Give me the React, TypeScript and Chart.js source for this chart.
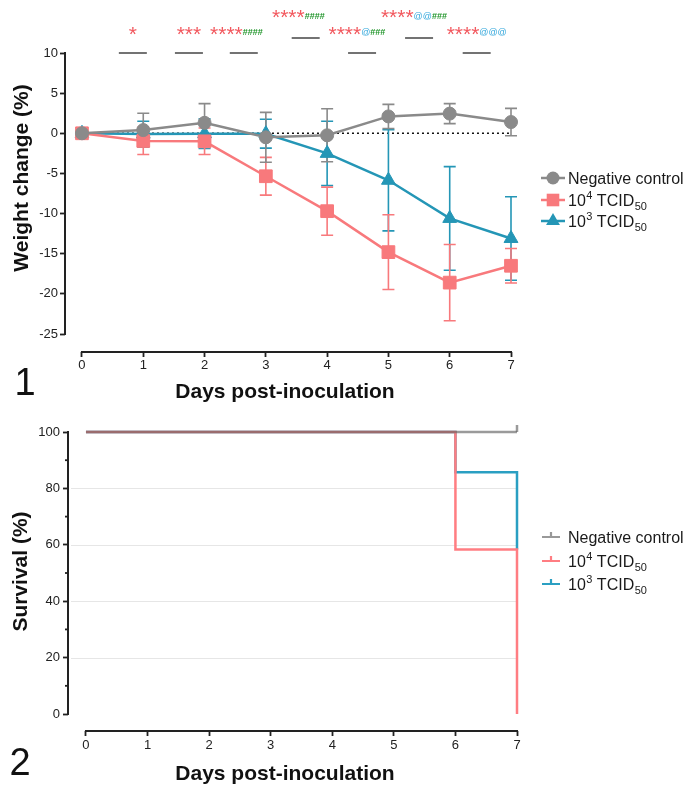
import React, { useEffect, useRef } from 'react';
import { Chart, registerables } from 'chart.js';

Chart.register(...registerables);

const FONT = '"Liberation Sans", Arial, Helvetica, sans-serif';

// ---------- data: weight change ----------
const days = [0, 1, 2, 3, 4, 5, 6, 7];
const dayTicks = [0, 1, 2, 3, 4, 5, 6, 7];
const weightTicks = [-25, -20, -15, -10, -5, 0, 5, 10];

const negMean = [0, 0.4, 1.3, -0.5, -0.25, 2.1, 2.45, 1.4];
const negSD = [0, 2.1, 2.4, 3.1, 3.3, 1.5, 1.25, 1.7];
const highMean = [0, -0.95, -1.0, -5.35, -9.7, -14.8, -18.6, -16.5];
const highSD = [0, 1.7, 1.65, 2.35, 3.0, 4.65, 4.75, 2.15];
const lowMean = [0, -0.1, -0.05, -0.05, -2.5, -5.85, -10.6, -13.1];
const lowSD = [0, 1.6, 1.85, 1.8, 4.0, 6.3, 6.45, 5.2];

// significance annotations (positions in day units)
const sigLineX = [0.83, 1.745, 2.64, 3.65, 4.57, 5.5, 6.44];
const sigTextX = [0.83, 1.745, 2.52, 3.53, 4.486, 5.416, 6.44];
const sigRow = [0, 0, 0, 1, 0, 1, 0];
const sigStars = ['*', '***', '****', '****', '****', '****', '****'];
const sigAts = ['', '', '', '', '@', '@@', '@@@'];
const sigHashes = ['', '', '####', '####', '###', '###', ''];

// ---------- data: survival ----------
const survivalTicks = [0, 20, 40, 60, 80, 100];
const survivalMinor = [10, 30, 50, 70, 90];
const survivalGrid = [20, 40, 60, 80];
const survNegX = [0, 7];
const survNegY = [100, 100];
const survHighX = [0, 6, 7];
const survHighY = [100, 58.3, 0];
const survLowX = [0, 6, 7];
const survLowY = [100, 85.7, 58.3];

// legend labels: main text, superscript, trailing text, subscript
const legendMain = ['Negative control', '10', '10'];
const legendSup = ['', '4', '3'];
const legendTail = ['', ' TCID', ' TCID'];
const legendSub = ['', '50', '50'];

const GREY = '#8a8a8a';
const RED = '#f8797c';
const BLUE = '#2496b6';
const S_GREY = 'rgba(100,100,100,0.65)';
const S_RED = '#ff7d82';
const S_BLUE = '#2a9fc2';
const AXIS = '#222';

function drawLegendText(ctx: CanvasRenderingContext2D, i: number, x: number, yc: number) {
  const base = yc + 5.8;
  ctx.textAlign = 'left';
  ctx.textBaseline = 'alphabetic';
  ctx.fillStyle = '#1a1a1a';
  let cx = x;
  ctx.font = `16px ${FONT}`;
  ctx.fillText(legendMain[i], cx, base);
  cx += ctx.measureText(legendMain[i]).width;
  if (legendSup[i]) {
    ctx.font = `11px ${FONT}`;
    ctx.fillText(legendSup[i], cx + 0.5, base - 6.5);
    cx += ctx.measureText(legendSup[i]).width + 0.5;
  }
  if (legendTail[i]) {
    ctx.font = `16px ${FONT}`;
    ctx.fillText(legendTail[i], cx, base);
    cx += ctx.measureText(legendTail[i]).width;
  }
  if (legendSub[i]) {
    ctx.font = `11px ${FONT}`;
    ctx.fillText(legendSub[i], cx + 0.5, base + 4);
  }
}

function drawMarker(ctx: CanvasRenderingContext2D, style: string, x: number, y: number, color: string) {
  ctx.fillStyle = color;
  ctx.beginPath();
  if (style === 'circle') {
    ctx.arc(x, y, 6.5, 0, Math.PI * 2);
  } else if (style === 'rect') {
    ctx.rect(x - 6.3, y - 6.3, 12.6, 12.6);
  } else {
    const r = 8;
    ctx.moveTo(x, y - r);
    ctx.lineTo(x + r * Math.sin((2 * Math.PI) / 3), y - r * Math.cos((2 * Math.PI) / 3));
    ctx.lineTo(x + r * Math.sin((4 * Math.PI) / 3), y - r * Math.cos((4 * Math.PI) / 3));
    ctx.closePath();
  }
  ctx.fill();
}

function drawPanelDecor(chart: any, opts: { yTitle: string; yTitleX: number; yTitleY: number; xTitleX: number; xTitleBase: number; panel: string; panelX: number; panelBase: number; yMin: number; yMax: number }) {
  const { ctx, chartArea, scales } = chart;
  const x = scales.x;
  const y = scales.y;
  ctx.save();
  ctx.strokeStyle = AXIS;
  ctx.lineWidth = 2;
  ctx.lineCap = 'butt';
  ctx.beginPath();
  ctx.moveTo(chartArea.left, y.getPixelForValue(opts.yMax) - 1);
  ctx.lineTo(chartArea.left, y.getPixelForValue(opts.yMin) + 1);
  ctx.stroke();
  ctx.beginPath();
  ctx.moveTo(x.getPixelForValue(0) - 1, chartArea.bottom);
  ctx.lineTo(x.getPixelForValue(7) + 1, chartArea.bottom);
  ctx.stroke();

  ctx.fillStyle = '#111';
  ctx.font = `bold 21px ${FONT}`;
  ctx.textAlign = 'center';
  ctx.textBaseline = 'alphabetic';
  ctx.fillText('Days post-inoculation', opts.xTitleX, opts.xTitleBase);

  ctx.save();
  ctx.translate(opts.yTitleX, opts.yTitleY);
  ctx.rotate(-Math.PI / 2);
  ctx.textBaseline = 'middle';
  ctx.fillText(opts.yTitle, 0, 0);
  ctx.restore();

  ctx.font = `38px ${FONT}`;
  ctx.textAlign = 'center';
  ctx.textBaseline = 'alphabetic';
  ctx.fillText(opts.panel, opts.panelX, opts.panelBase);
  ctx.restore();
}

const weightPlugin = {
  id: 'weightDecor',
  beforeDatasetsDraw(chart: any) {
    const { ctx, scales } = chart;
    const x = scales.x;
    const y = scales.y;
    ctx.save();
    ctx.strokeStyle = '#111';
    ctx.lineWidth = 1.5;
    ctx.setLineDash([2, 3]);
    ctx.beginPath();
    ctx.moveTo(x.getPixelForValue(0), y.getPixelForValue(0));
    ctx.lineTo(x.getPixelForValue(7), y.getPixelForValue(0));
    ctx.stroke();
    ctx.setLineDash([]);
    for (let di = chart.data.datasets.length - 1; di >= 0; di--) {
      const ds = chart.data.datasets[di];
      const meta = chart.getDatasetMeta(di);
      ctx.strokeStyle = ds.borderColor;
      ctx.lineWidth = 1.6;
      ds.data.forEach((pt: any, i: number) => {
        const sd = ds.errorBars[i];
        if (!sd) return;
        const px = meta.data[i].x;
        const top = y.getPixelForValue(pt.y + sd);
        const bot = y.getPixelForValue(pt.y - sd);
        ctx.beginPath();
        ctx.moveTo(px, top);
        ctx.lineTo(px, bot);
        ctx.moveTo(px - 6, top);
        ctx.lineTo(px + 6, top);
        ctx.moveTo(px - 6, bot);
        ctx.lineTo(px + 6, bot);
        ctx.stroke();
      });
    }
    ctx.restore();
  },
  afterDraw(chart: any) {
    const { ctx, chartArea, scales } = chart;
    const x = scales.x;
    drawPanelDecor(chart, {
      yTitle: 'Weight change (%)', yTitleX: 22.7, yTitleY: 178,
      xTitleX: 285, xTitleBase: 398, panel: '1', panelX: 25, panelBase: 395,
      yMin: -25, yMax: 10,
    });
    ctx.save();
    // significance annotations
    const lineY = [chartArea.top, chartArea.top - 15];
    const starBase = [40.5, 23.5];
    const smallBase = [34.5, 18.5];
    sigLineX.forEach((v, i) => {
      const r = sigRow[i];
      const cx = x.getPixelForValue(v);
      ctx.strokeStyle = '#444';
      ctx.lineWidth = 1.5;
      ctx.beginPath();
      ctx.moveTo(cx - 14, lineY[r]);
      ctx.lineTo(cx + 14, lineY[r]);
      ctx.stroke();
      const parts = [
        { t: sigStars[i], font: `21px ${FONT}`, color: '#f2585e', base: starBase[r] },
        { t: sigAts[i], font: `9px ${FONT}`, color: '#35a8dc', base: smallBase[r] },
        { t: sigHashes[i], font: `bold 9px ${FONT}`, color: '#1e9428', base: smallBase[r] },
      ].filter((p) => p.t);
      let total = 0;
      parts.forEach((p) => {
        ctx.font = p.font;
        total += ctx.measureText(p.t).width;
      });
      let sx = x.getPixelForValue(sigTextX[i]) - total / 2;
      ctx.textAlign = 'left';
      ctx.textBaseline = 'alphabetic';
      parts.forEach((p) => {
        ctx.font = p.font;
        ctx.fillStyle = p.color;
        ctx.fillText(p.t, sx, p.base);
        sx += ctx.measureText(p.t).width;
      });
    });
    // legend
    const rows = [178, 200, 221];
    const cols = [GREY, RED, BLUE];
    const styles = ['circle', 'rect', 'triangle'];
    rows.forEach((ry, i) => {
      ctx.strokeStyle = cols[i];
      ctx.lineWidth = 2.5;
      ctx.beginPath();
      ctx.moveTo(541, ry);
      ctx.lineTo(565, ry);
      ctx.stroke();
      drawMarker(ctx, styles[i], 553, ry, cols[i]);
      drawLegendText(ctx, i, 568, ry);
    });
    ctx.restore();
  },
};

const survivalPlugin = {
  id: 'survivalDecor',
  beforeDatasetsDraw(chart: any) {
    const { ctx, chartArea, scales } = chart;
    const x = scales.x;
    const y = scales.y;
    ctx.save();
    ctx.strokeStyle = '#e6e6e6';
    ctx.lineWidth = 1;
    survivalGrid.forEach((v) => {
      const py = Math.round(y.getPixelForValue(v)) + 0.5;
      ctx.beginPath();
      ctx.moveTo(chartArea.left + 3, py);
      ctx.lineTo(x.getPixelForValue(7), py);
      ctx.stroke();
    });
    ctx.restore();
  },
  afterDraw(chart: any) {
    const { ctx, chartArea, scales } = chart;
    const y = scales.y;
    drawPanelDecor(chart, {
      yTitle: 'Survival (%)', yTitleX: 21.2, yTitleY: 171.5,
      xTitleX: 285, xTitleBase: 380, panel: '2', panelX: 20, panelBase: 375,
      yMin: 0, yMax: 100,
    });
    ctx.save();
    ctx.strokeStyle = AXIS;
    ctx.lineWidth = 1.8;
    survivalMinor.forEach((v) => {
      const py = y.getPixelForValue(v);
      ctx.beginPath();
      ctx.moveTo(chartArea.left - 3, py);
      ctx.lineTo(chartArea.left, py);
      ctx.stroke();
    });
    const rows = [137, 161, 184];
    const cols = ['#999999', S_RED, S_BLUE];
    rows.forEach((ry, i) => {
      ctx.strokeStyle = cols[i];
      ctx.lineWidth = 2.2;
      ctx.beginPath();
      ctx.moveTo(542, ry);
      ctx.lineTo(560, ry);
      ctx.moveTo(551, ry);
      ctx.lineTo(551, ry - 5);
      ctx.stroke();
      drawLegendText(ctx, i, 568, ry);
    });
    ctx.restore();
  },
};

function tickFont() {
  return { family: FONT, size: 13 };
}

export default function App() {
  const ref1 = useRef<HTMLCanvasElement>(null);
  const ref2 = useRef<HTMLCanvasElement>(null);

  useEffect(() => {
    const mk = (mean: number[], sd: number[], label: string, color: string, style: string, radius: number) => ({
      label,
      data: days.map((d, i) => ({ x: d, y: mean[i] })),
      errorBars: sd,
      borderColor: color,
      backgroundColor: color,
      pointBackgroundColor: color,
      pointBorderColor: color,
      pointBorderWidth: 1,
      borderWidth: 2.5,
      pointStyle: style,
      pointRadius: radius,
      pointHoverRadius: radius,
      tension: 0,
      clip: false,
    });

    const c1 = new Chart(ref1.current!, {
      type: 'line',
      data: {
        datasets: [
          mk(negMean, negSD, 'Negative control', GREY, 'circle', 6.5),
          mk(highMean, highSD, '10^4 TCID50', RED, 'rect', 9),
          mk(lowMean, lowSD, '10^3 TCID50', BLUE, 'triangle', 8),
        ] as any,
      },
      options: {
        responsive: false,
        animation: false,
        events: [],
        layout: { padding: { top: 53, right: 181, bottom: 0, left: 0 } },
        plugins: { legend: { display: false }, tooltip: { enabled: false } },
        scales: {
          x: {
            type: 'linear',
            min: -0.277,
            max: 7,
            afterBuildTicks: (s: any) => { s.ticks = dayTicks.map((v) => ({ value: v })); },
            afterFit: (s: any) => { s.height = 58; },
            grid: { drawOnChartArea: false, drawTicks: true, tickLength: 5, tickColor: AXIS, tickWidth: 1.8 },
            border: { display: false },
            ticks: { font: tickFont(), color: '#222', padding: 1, maxRotation: 0, callback: (v: any) => String(v) },
          },
          y: {
            type: 'linear',
            min: -27.24,
            max: 10,
            afterBuildTicks: (s: any) => { s.ticks = weightTicks.map((v) => ({ value: v })); },
            afterFit: (s: any) => { s.width = 65; },
            grid: { drawOnChartArea: false, drawTicks: true, tickLength: 5, tickColor: AXIS, tickWidth: 1.8 },
            border: { display: false },
            ticks: { font: tickFont(), color: '#222', padding: 2, callback: (v: any) => String(v) },
          },
        },
      } as any,
      plugins: [weightPlugin],
    });

    const step = (xs: number[], ys: number[], label: string, color: string, radii: number[]) => ({
      label,
      data: xs.map((v, i) => ({ x: v, y: ys[i] })),
      borderColor: color,
      backgroundColor: color,
      borderWidth: 2.5,
      stepped: 'before',
      pointStyle: 'dash',
      rotation: -90,
      pointRotation: -90,
      pointRadius: radii,
      pointHoverRadius: radii,
      pointBorderColor: color,
      pointBorderWidth: 2.5,
      clip: false,
    });

    const c2 = new Chart(ref2.current!, {
      type: 'line',
      data: {
        datasets: [
          step(survNegX, survNegY, 'Negative control', S_GREY, [0, 7]),
          step(survHighX, survHighY, '10^4 TCID50', S_RED, [0, 0, 0]),
          step(survLowX, survLowY, '10^3 TCID50', S_BLUE, [0, 0, 0]),
        ] as any,
      },
      options: {
        responsive: false,
        animation: false,
        events: [],
        layout: { padding: { top: 32, right: 175, bottom: 0, left: 0 } },
        plugins: { legend: { display: false }, tooltip: { enabled: false } },
        scales: {
          x: {
            type: 'linear',
            min: -0.292,
            max: 7,
            afterBuildTicks: (s: any) => { s.ticks = dayTicks.map((v) => ({ value: v })); },
            afterFit: (s: any) => { s.height = 65; },
            grid: { drawOnChartArea: false, drawTicks: true, tickLength: 5, tickColor: AXIS, tickWidth: 1.8 },
            border: { display: false },
            ticks: { font: tickFont(), color: '#222', padding: 2, maxRotation: 0, callback: (v: any) => String(v) },
          },
          y: {
            type: 'linear',
            min: -6.02,
            max: 100,
            afterBuildTicks: (s: any) => { s.ticks = survivalTicks.map((v) => ({ value: v })); },
            afterFit: (s: any) => { s.width = 68; },
            grid: { drawOnChartArea: false, drawTicks: true, tickLength: 5, tickColor: AXIS, tickWidth: 1.8 },
            border: { display: false },
            ticks: { font: tickFont(), color: '#222', padding: 3, callback: (v: any) => String(v) },
          },
        },
      } as any,
      plugins: [survivalPlugin],
    });

    return () => {
      c1.destroy();
      c2.destroy();
    };
  }, []);

  return (
    <div style={{ position: 'absolute', left: 0, top: 0, width: 692, height: 796, background: '#fff', overflow: 'hidden' }}>
      <canvas ref={ref1} width={692} height={410} style={{ position: 'absolute', left: 0, top: 0, width: 692, height: 410 }} />
      <canvas ref={ref2} width={692} height={396} style={{ position: 'absolute', left: 0, top: 400, width: 692, height: 396 }} />
    </div>
  );
}
